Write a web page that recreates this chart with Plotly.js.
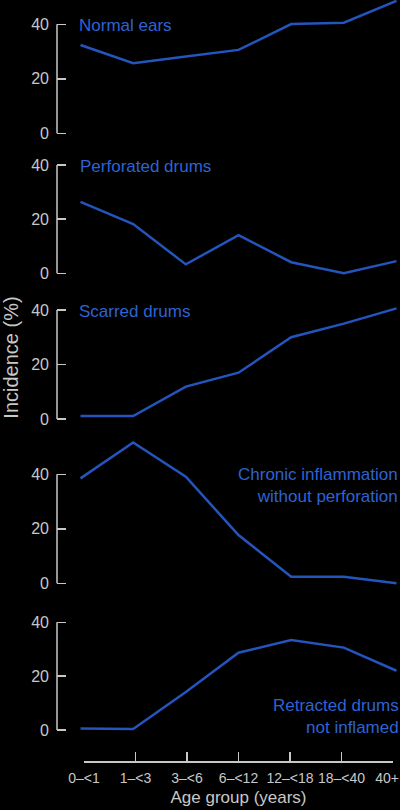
<!DOCTYPE html>
<html><head><meta charset="utf-8">
<script src="https://cdn.plot.ly/plotly-3.0.1.min.js"></script>
<style>html,body{margin:0;padding:0;background:#000;}#chart{width:400px;height:810px;}</style>
</head><body><div id="chart"></div>
<script>
// ---- data ----
const ageGroups = ['0\u2013<1', '1\u2013<3', '3\u2013<6', '6\u2013<12', '12\u2013<18', '18\u2013<40', '40+'];
const normalEars = [32.4, 25.7, 28.2, 30.6, 40.1, 40.6, 48.6];
const perforatedDrums = [26.4, 18.2, 3.3, 14.1, 4.1, 0, 4.5];
const scarredDrums = [1.1, 1.1, 11.9, 17.0, 30.0, 35.0, 40.6];
const chronicInflammation = [38.5, 51.7, 39.1, 17.7, 2.4, 2.4, 0];
const retractedDrums = [0.6, 0.4, 14.1, 28.7, 33.4, 30.6, 22.0];
const panelLabels = ['Normal ears', 'Perforated drums', 'Scarred drums',
  'Chronic inflammation<br>without perforation', 'Retracted drums<br>not inflamed'];
const yTicks = [0, 20, 40];
const yTitle = 'Incidence (%)';
const xTitle = 'Age group (years)';

// ---- layout geometry (pixels) ----
const W = 400, H = 810, ML = 57, MB = 49, PH = H - MB, PW = W - ML;
const panelDomPx = [[0, 140], [140, 285], [285, 430], [430, 595], [595, 761]];
const zeroPx = [133.3, 273.3, 419, 583.3, 730];
const fortyPx = [24.3, 165, 310, 474.3, 622.3];
const firstPtPx = 80.5, lastPtPx = 396.5;
const firstTickPx = 84, lastTickPx = 393;
const labelPos = [
  {x: 76.5, y: 26, anchor: 'left'},
  {x: 77.5, y: 166.5, anchor: 'left'},
  {x: 77, y: 312, anchor: 'left'},
  {x: 400, y: 485, anchor: 'right'},
  {x: 401, y: 716, anchor: 'right'}
];

const FONT = 'Liberation Sans, Arial, Helvetica, sans-serif';
const GRAY = '#c8c8c8';
const BLUE_TXT = '#2e63d4';
const BLUE_LINE = '#2454bd';

const series = [normalEars, perforatedDrums, scarredDrums, chronicInflammation, retractedDrums];
const px2py = p => (PH - p) / PH;
const px2pxp = p => (p - ML) / PW;

const ppuX = (lastPtPx - firstPtPx) / (ageGroups.length - 1);
const xRange = [(ML - firstPtPx) / ppuX, (W - firstPtPx) / ppuX];

// last tick label is nudged left (as in the original) so it stays on the page
const bottomTickText = ageGroups.map((g, i) => i === ageGroups.length - 1 ? g + '\u00a0\u00a0\u00a0' : g);

const traces = series.map((vals, i) => ({
  type: 'scatter', mode: 'lines',
  x: ageGroups, y: vals,
  xaxis: 'x', yaxis: 'y' + (i === 0 ? '' : i + 1),
  line: {color: BLUE_LINE, width: 2.5},
  showlegend: false, hoverinfo: 'skip'
}));
// empty trace so the bottom category axis gets drawn
traces.push({type: 'scatter', mode: 'lines', x: [], y: [], xaxis: 'x2', yaxis: 'y5', showlegend: false, hoverinfo: 'skip'});

const layout = {
  width: W, height: H,
  margin: {l: ML, r: 0, t: 0, b: MB},
  paper_bgcolor: '#000', plot_bgcolor: 'rgba(0,0,0,0)',
  font: {family: FONT, color: GRAY},
  showlegend: false,
  xaxis: {
    type: 'category', categoryarray: ageGroups, categoryorder: 'array',
    range: xRange, domain: [0, 1], visible: false, fixedrange: true, anchor: 'y5'
  },
  xaxis2: {
    type: 'linear',
    domain: [px2pxp(firstTickPx), px2pxp(lastTickPx)],
    range: [0, ageGroups.length - 1],
    anchor: 'y5',
    tickvals: ageGroups.map((_, i) => i), ticktext: bottomTickText,
    ticks: 'inside', ticklen: 9, tickwidth: 1.5, tickcolor: GRAY,
    showline: true, linecolor: GRAY, linewidth: 1.5,
    showgrid: false, zeroline: false,
    tickfont: {size: 14, color: GRAY, family: FONT},
    ticklabelstandoff: 4,
    ticklabeloverflow: 'allow',
    title: {text: xTitle, font: {size: 17, color: GRAY, family: FONT}, standoff: 6},
    fixedrange: true
  },
  shapes: [],
  annotations: []
};

for (let i = 0; i < 5; i++) {
  const ppu = (zeroPx[i] - fortyPx[i]) / 40;
  const [top, bot] = panelDomPx[i];
  const key = 'yaxis' + (i === 0 ? '' : i + 1);
  layout[key] = {
    domain: [px2py(bot), px2py(top)],
    range: [-(bot - zeroPx[i]) / ppu, (zeroPx[i] - top) / ppu],
    anchor: 'x',
    tickvals: yTicks,
    ticks: 'inside', ticklen: 9, tickwidth: 1.5, tickcolor: GRAY,
    showline: false, showgrid: false, zeroline: false,
    tickfont: {size: 16, color: GRAY, family: FONT},
    ticklabelstandoff: 7,
    ticklabeloverflow: 'allow',
    fixedrange: true
  };
  if (i === 2) {
    layout[key].title = {text: yTitle, font: {size: 20, color: GRAY, family: FONT}, standoff: 7};
  }
  layout.shapes.push({
    type: 'line', xref: 'paper', x0: 0, x1: 0,
    yref: 'y' + (i === 0 ? '' : i + 1), y0: yTicks[0], y1: yTicks[yTicks.length - 1],
    line: {color: GRAY, width: 1.5}
  });
  const lp = labelPos[i];
  layout.annotations.push({
    text: panelLabels[i], showarrow: false,
    xref: 'paper', yref: 'paper',
    x: px2pxp(lp.x), y: px2py(lp.y),
    xanchor: lp.anchor, yanchor: 'middle', align: lp.anchor,
    font: {size: 17, color: BLUE_TXT, family: FONT}
  });
}

Plotly.newPlot('chart', traces, layout, {staticPlot: true, displayModeBar: false});
</script>
</body></html>
